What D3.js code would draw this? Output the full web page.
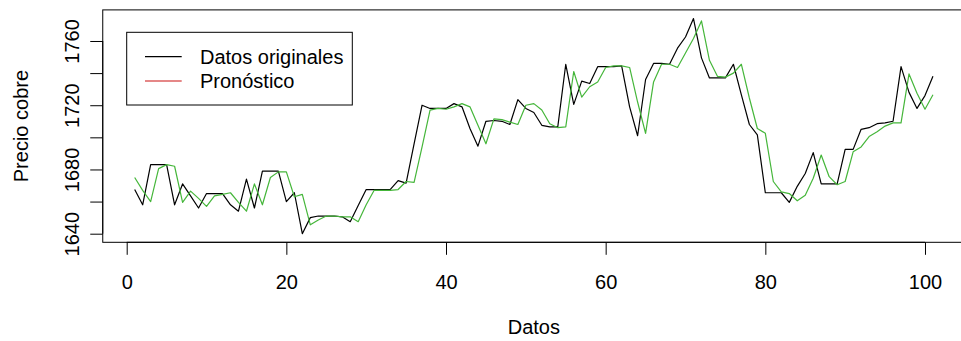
<!DOCTYPE html>
<html>
<head>
<meta charset="utf-8">
<script src="https://cdn.jsdelivr.net/npm/d3@7"></script>
<style>
  html, body { margin: 0; padding: 0; background: #fff; }
  svg { display: block; font-family: "Liberation Sans", Arial, sans-serif; }
</style>
</head>
<body>
<svg id="chart" width="961" height="341"></svg>
<script>
// Copper price: observed series and one-step forecast, indexed 1..101
const index = d3.range(1, 102);

const original = [
  1667.5, 1658, 1683, 1683, 1683, 1658, 1671, 1663.5, 1656, 1665,
  1665, 1665, 1658, 1654, 1674, 1656, 1679, 1679, 1679, 1660,
  1665.5, 1640, 1650, 1651, 1651, 1651, 1650.5, 1647.5, 1657.5, 1667.5,
  1667.5, 1667.5, 1667.5, 1673, 1671.5, 1696, 1720, 1718, 1718, 1718,
  1721, 1719, 1705.5, 1694.5, 1710, 1710.5, 1710, 1708, 1723.5, 1718,
  1715.5, 1707.5, 1706.5, 1706.5, 1745.5, 1720.5, 1735, 1733.5, 1744, 1744,
  1744, 1744.5, 1719, 1701, 1736, 1746, 1746, 1745.5, 1755.5, 1762.5,
  1774, 1749.5, 1737, 1737, 1737, 1745.5, 1726.5, 1708, 1701.5, 1665.5,
  1665.5, 1665.5, 1659.5, 1669.5, 1677.5, 1690.5, 1671, 1671, 1671, 1692.5,
  1692.5, 1705, 1706, 1708.5, 1709, 1710, 1744, 1728, 1718, 1726,
  1738
];

const forecast = [
  1675, 1667, 1660, 1680.5, 1683, 1682, 1659.5, 1666.5, 1662, 1657,
  1663.5, 1664.5, 1665.5, 1659.5, 1654, 1671, 1658, 1675, 1678.5, 1678.5,
  1663, 1664.5, 1645.5, 1648.5, 1651, 1651, 1650.5, 1650.5, 1647.5, 1658,
  1667, 1667, 1667, 1667.5, 1672.5, 1672, 1694, 1717, 1718, 1717.5,
  1719, 1721, 1719, 1707.5, 1696, 1711.5, 1711, 1709.5, 1708, 1720,
  1721, 1717, 1708.5, 1706, 1706.5, 1741, 1725, 1731.5, 1734.5, 1743.5,
  1744.5, 1744.5, 1743.5, 1722, 1702.5, 1734.5, 1745.5, 1745.5, 1743.5, 1752.5,
  1761.5, 1772.5, 1748, 1738, 1737.5, 1740, 1745.5, 1724.5, 1705.5, 1702.5,
  1672.5, 1666, 1665, 1660.5, 1664, 1674.5, 1689, 1675.5, 1670.5, 1672.5,
  1691, 1694, 1700.5, 1703.5, 1707, 1709, 1709, 1739.5, 1727.5, 1717.5,
  1726.5
];

const xTicks = [0, 20, 40, 60, 80, 100];
const yTicks = [1640, 1660, 1680, 1700, 1720, 1740, 1760];
const yTickLabels = [1640, 1680, 1720, 1760];

const seriesNames = ["Datos originales", "Pronóstico"];
const legendColors = ["#000000", "#cc1111"];
const forecastColor = "#45b63a";

const xTitle = "Datos";
const yTitle = "Precio cobre";

// Plot region, with the usual 4% padding around the data range
const plot = { left: 102.75, right: 964.9, top: 9.9, bottom: 242.3 };
const fontSize = 20;
const tickLen = 12.5;

const xExt = d3.extent(index);
const xPad = (xExt[1] - xExt[0]) * 0.04;
const yExt = d3.extent(original.concat(forecast));
const yPad = (yExt[1] - yExt[0]) * 0.04;

const x = d3.scaleLinear()
  .domain([xExt[0] - xPad, xExt[1] + xPad])
  .range([plot.left, plot.right]);
const y = d3.scaleLinear()
  .domain([yExt[0] - yPad, yExt[1] + yPad])
  .range([plot.bottom, plot.top]);

const svg = d3.select("#chart");
svg.append("rect").attr("width", 961).attr("height", 341).attr("fill", "#fff");

// Series lines
const line = d3.line().x((d, i) => x(index[i])).y(d => y(d));

svg.append("path")
  .datum(original)
  .attr("fill", "none")
  .attr("stroke", "#000")
  .attr("stroke-width", 1.2)
  .attr("stroke-linejoin", "round")
  .attr("d", line);

svg.append("path")
  .datum(forecast)
  .attr("fill", "none")
  .attr("stroke", forecastColor)
  .attr("stroke-width", 1.2)
  .attr("stroke-linejoin", "round")
  .attr("d", line);

// Frame around the plot region
svg.append("rect")
  .attr("x", plot.left).attr("y", plot.top)
  .attr("width", plot.right - plot.left)
  .attr("height", plot.bottom - plot.top)
  .attr("fill", "none")
  .attr("stroke", "#000")
  .attr("stroke-width", 1);

// Bottom axis
const gx = svg.append("g")
  .attr("transform", `translate(0,${plot.bottom})`)
  .call(d3.axisBottom(x).tickValues(xTicks).tickSize(tickLen).tickSizeOuter(0));
gx.select(".domain").attr("d", `M${x(xTicks[0])},0H${x(xTicks[xTicks.length - 1])}`)
  .attr("stroke", "#000");
gx.selectAll(".tick line").attr("stroke", "#000");
gx.selectAll(".tick text")
  .attr("y", 47.2).attr("dy", null)
  .attr("fill", "#000")
  .style("font-size", fontSize + "px")
  .style("font-family", "Liberation Sans, Arial, sans-serif");

// Left axis, labels rotated along the axis
const gy = svg.append("g")
  .attr("transform", `translate(${plot.left},0)`)
  .call(d3.axisLeft(y).tickValues(yTicks).tickSize(tickLen).tickSizeOuter(0)
    .tickFormat(d => yTickLabels.includes(d) ? d : ""));
gy.select(".domain").attr("d", `M0,${y(yTicks[0])}V${y(yTicks[yTicks.length - 1])}`)
  .attr("stroke", "#000");
gy.selectAll(".tick line").attr("stroke", "#000");
gy.selectAll(".tick text")
  .attr("x", null).attr("dy", null)
  .attr("text-anchor", "middle")
  .attr("transform", "translate(-24,0) rotate(-90)")
  .attr("fill", "#000")
  .style("font-size", fontSize + "px")
  .style("font-family", "Liberation Sans, Arial, sans-serif");

// Axis titles
svg.append("text")
  .attr("x", (plot.left + plot.right) / 2)
  .attr("y", 334)
  .attr("text-anchor", "middle")
  .style("font-size", fontSize + "px")
  .text(xTitle);

svg.append("text")
  .attr("transform", `translate(28,${(plot.top + plot.bottom) / 2}) rotate(-90)`)
  .attr("text-anchor", "middle")
  .style("font-size", fontSize + "px")
  .text(yTitle);

// Legend
const legend = svg.append("g");
legend.append("rect")
  .attr("x", 126.7).attr("y", 32.3)
  .attr("width", 352.3 - 126.7).attr("height", 105 - 32.3)
  .attr("fill", "#fff").attr("stroke", "#000").attr("stroke-width", 1);

const rowY = [56.7, 81];
seriesNames.forEach((name, i) => {
  legend.append("line")
    .attr("x1", 145).attr("x2", 181.7)
    .attr("y1", rowY[i]).attr("y2", rowY[i])
    .attr("stroke", legendColors[i]).attr("stroke-width", 1.2);
  legend.append("text")
    .attr("x", 200).attr("y", rowY[i])
    .attr("dy", "0.35em")
    .style("font-size", fontSize + "px")
    .text(name);
});
</script>
</body>
</html>
